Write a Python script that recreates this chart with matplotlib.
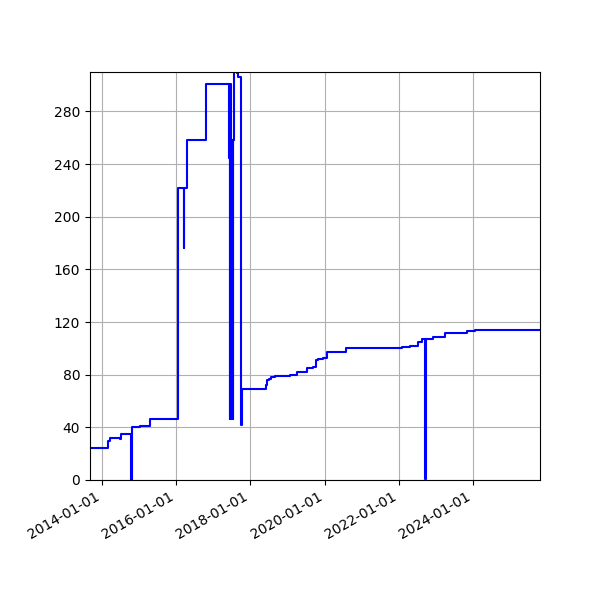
import matplotlib
matplotlib.use("Agg")
import matplotlib.pyplot as plt
import matplotlib.dates as mdates
from matplotlib.ticker import MultipleLocator
import pandas as pd

dates = [
    "2013-09-05", "2014-03-04", "2014-03-21", "2014-06-27", "2014-07-03",
    "2014-10-13", "2014-10-20", "2015-01-10", "2015-04-18", "2016-01-16",
    "2016-03-15", "2016-03-22", "2016-04-17", "2016-10-18", "2017-06-04",
    "2017-06-11", "2017-06-19", "2017-06-27", "2017-07-04", "2017-07-11",
    "2017-07-17", "2017-07-24", "2017-08-19", "2017-09-01", "2017-09-28",
    "2017-10-10", "2018-05-30", "2018-06-13", "2018-07-03", "2018-07-23",
    "2018-08-31", "2019-01-26", "2019-04-02", "2019-07-09", "2019-09-12",
    "2019-10-09", "2019-10-29", "2019-12-20", "2020-01-28", "2020-07-30",
    "2022-01-30", "2022-04-20", "2022-07-08", "2022-08-13", "2022-09-16",
    "2022-09-23", "2022-12-06", "2023-03-31", "2023-10-30", "2024-01-21",
    "2025-10-22",
]
values = [
    24, 30, 32, 31, 35,
    0, 40, 41, 46, 222,
    176, 222, 258, 301, 245,
    46, 301, 46, 258, 46,
    258, 330, 309, 306, 42,
    69, 72, 76, 77, 78,
    79, 80, 82, 85, 86,
    91, 92, 93, 97, 100,
    101, 102, 105, 107, 1,
    107, 109, 112, 113, 114,
    114,
]
y_ticks = [0, 40, 80, 120, 160, 200, 240, 280]

x = pd.to_datetime(dates)

fig = plt.figure(figsize=(6, 6), dpi=100)
ax = fig.add_subplot(111)
ax.plot(x, values, color="#0000ff", drawstyle="steps-post", linewidth=1.5)
ax.set_xlim(x[0], x[-1])
ax.set_ylim(0, 310)
ax.yaxis.set_major_locator(MultipleLocator(40))
ax.set_yticks(y_ticks)
ax.xaxis.set_major_locator(mdates.YearLocator(2))
ax.xaxis.set_major_formatter(mdates.DateFormatter("%Y-%m-%d"))
ax.grid(True)
fig.autofmt_xdate()
fig.subplots_adjust(left=0.15, right=0.9, top=0.88, bottom=0.2)
fig.savefig("out.png", dpi=100)
